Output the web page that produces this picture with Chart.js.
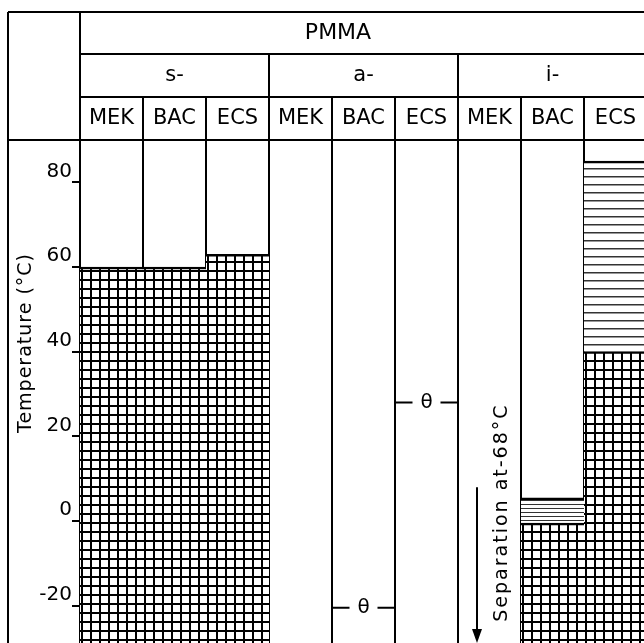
<!DOCTYPE html>
<html>
<head>
<meta charset="utf-8">
<script src="https://cdn.jsdelivr.net/npm/chart.js@4.4.1/dist/chart.umd.min.js"></script>
<style>
  html, body { margin: 0; padding: 0; background: #fff; overflow: hidden; }
  #wrap { width: 647px; height: 643px; }
</style>
</head>
<body>
<div id="wrap"><canvas id="pmmaChart"></canvas></div>
<script>
// columns of the table
var solvents = ['MEK', 'BAC', 'ECS', 'MEK', 'BAC', 'ECS', 'MEK', 'BAC', 'ECS'];
var tacticity = ['s-', 'a-', 'i-'];
var tempTicks = [-20, 0, 20, 40, 60, 80];
var tempMin = -28.8, tempMax = 90;

// gel state (crosshatched) from the bottom up to this temperature
var gelTop = [60, 60, 63, null, null, null, null, -0.5, 40];
// turbid state (horizontal lines) between these temperatures
var turbidFrom = [null, null, null, null, null, null, null, -0.5, 40];
var turbidTo = [null, null, null, null, null, null, null, 5.5, 85];
// theta temperatures
var thetaTemp = [null, null, null, null, -20.5, 28, null, null, null];
// i-MEK separates far below the plotted range
var separationCol = 6;
var separationText = 'Separation at-68°C';
var separationArrowFrom = 8;

var FONT = '"DejaVu Sans", sans-serif';
var canvas = document.getElementById('pmmaChart');

function makePattern(w, h, draw) {
  var c = document.createElement('canvas');
  c.width = w; c.height = h;
  var g = c.getContext('2d');
  g.fillStyle = '#fff';
  g.fillRect(0, 0, w, h);
  draw(g);
  return canvas.getContext('2d').createPattern(c, 'repeat');
}
var gridHatch = makePattern(9, 9, function(g) {
  g.fillStyle = '#000';
  g.fillRect(0, 0, 2, 9);
  g.fillRect(0, 0, 9, 2);
});
var wideLines = makePattern(8, 8, function(g) {
  g.fillStyle = '#333';
  g.fillRect(0, 0, 8, 1.5);
});
var fineLines = makePattern(4, 4, function(g) {
  g.fillStyle = '#333';
  g.fillRect(0, 0, 4, 1);
});

var gelData = gelTop.map(function(v) { return v == null ? null : [tempMin, v]; });
var turbidData = turbidFrom.map(function(v, i) { return v == null ? null : [v, turbidTo[i]]; });
var turbidFill = turbidFrom.map(function(v, i) { return turbidTo[i] - v < 15 ? fineLines : wideLines; });

function noPad(s) {
  s.paddingTop = 0; s.paddingBottom = 0; s.paddingLeft = 0; s.paddingRight = 0;
}

var tablePlugin = {
  id: 'tableFrame',
  afterDraw: function(chart) {
    var ctx = chart.ctx, a = chart.chartArea;
    var x2 = chart.scales.x2, y = chart.scales.y;
    var top = x2.top - 42, left = y.left;
    ctx.save();
    ctx.strokeStyle = '#000';
    ctx.lineWidth = 2;
    ctx.beginPath();
    ctx.moveTo(left, top); ctx.lineTo(a.right, top);
    ctx.moveTo(left, top); ctx.lineTo(left, a.bottom);
    ctx.moveTo(a.left, top); ctx.lineTo(a.left, a.top);
    ctx.moveTo(a.left, x2.top); ctx.lineTo(a.right, x2.top);
    ctx.moveTo(left, a.top); ctx.lineTo(a.left, a.top);
    ctx.stroke();

    ctx.fillStyle = '#000';
    ctx.textAlign = 'center';
    ctx.textBaseline = 'middle';
    ctx.font = '22px ' + FONT;
    ctx.fillText('PMMA', 338, (top + x2.top) / 2);

    ctx.translate(left + 18, 343);
    ctx.rotate(-Math.PI / 2);
    ctx.font = '19px ' + FONT;
    ctx.letterSpacing = '1px';
    ctx.fillText('Temperature (°C)', 0, 0);
    ctx.restore();
  },
  afterDatasetsDraw: function(chart) {
    var ctx = chart.ctx, x = chart.scales.x, y = chart.scales.y, a = chart.chartArea;
    var half = (x.getPixelForValue(1) - x.getPixelForValue(0)) / 2;
    ctx.save();
    ctx.strokeStyle = '#000';
    ctx.fillStyle = '#000';
    ctx.lineWidth = 2;
    ctx.textAlign = 'center';
    ctx.textBaseline = 'middle';
    ctx.font = '20px ' + FONT;
    thetaTemp.forEach(function(t, i) {
      if (t == null) return;
      var cx = x.getPixelForValue(i), py = y.getPixelForValue(t);
      ctx.beginPath();
      ctx.moveTo(cx - half, py); ctx.lineTo(cx - 14, py);
      ctx.moveTo(cx + 14, py); ctx.lineTo(cx + half, py);
      ctx.stroke();
      ctx.fillText('θ', cx, py);
    });

    // separation arrow and note
    var colLeft = x.getPixelForValue(separationCol) - half;
    var ax = colLeft + 19;
    ctx.beginPath();
    ctx.moveTo(ax, y.getPixelForValue(separationArrowFrom));
    ctx.lineTo(ax, a.bottom - 12);
    ctx.stroke();
    ctx.beginPath();
    ctx.moveTo(ax - 5, a.bottom - 14);
    ctx.lineTo(ax + 5, a.bottom - 14);
    ctx.lineTo(ax, a.bottom);
    ctx.closePath();
    ctx.fill();

    ctx.translate(colLeft + 44, y.getPixelForValue(2));
    ctx.rotate(-Math.PI / 2);
    ctx.font = '19px ' + FONT;
    ctx.letterSpacing = '2px';
    ctx.fillText(separationText, 0, 0);
    ctx.restore();
  }
};

new Chart(canvas, {
  type: 'bar',
  data: {
    labels: solvents,
    datasets: [{
      label: 'gel',
      data: gelData,
      backgroundColor: gridHatch,
      borderColor: '#000',
      borderWidth: { top: 2.5, left: 0, right: 0, bottom: 0 },
      borderSkipped: false,
      grouped: false,
      barPercentage: 1,
      categoryPercentage: 1
    }, {
      label: 'turbid',
      data: turbidData,
      backgroundColor: turbidFill,
      borderColor: '#000',
      borderWidth: { top: 2.5, left: 0, right: 0, bottom: 0 },
      borderSkipped: false,
      grouped: false,
      barPercentage: 1,
      categoryPercentage: 1
    }]
  },
  options: {
    responsive: true,
    maintainAspectRatio: false,
    animation: false,
    events: [],
    layout: { padding: { top: 54, left: 8, right: 0, bottom: 0 } },
    plugins: { legend: { display: false }, tooltip: { enabled: false } },
    scales: {
      x: {
        position: 'top',
        z: 1,
        weight: 0,
        grid: { offset: true, color: '#000', lineWidth: 2, tickLength: 43, drawOnChartArea: true },
        border: { display: true, color: '#000', width: 2 },
        ticks: { color: '#000', font: { family: FONT, size: 21, lineHeight: 1 }, padding: -32.5, maxRotation: 0, autoSkip: false },
        afterFit: function(s) { s.height = 43; noPad(s); }
      },
      x2: {
        type: 'category',
        labels: tacticity,
        position: 'top',
        weight: 1,
        grid: { offset: true, color: '#000', lineWidth: 2, tickLength: 43, drawOnChartArea: false },
        border: { display: true, color: '#000', width: 2 },
        ticks: { color: '#000', font: { family: FONT, size: 21, lineHeight: 1 }, padding: -32, maxRotation: 0, autoSkip: false },
        afterFit: function(s) { s.height = 43; noPad(s); }
      },
      y: {
        min: tempMin,
        max: tempMax,
        afterBuildTicks: function(s) { s.ticks = tempTicks.map(function(v) { return { value: v }; }); },
        afterFit: function(s) { s.width = 72; noPad(s); },
        grid: { drawOnChartArea: false, color: '#000', lineWidth: 2, tickLength: 8 },
        border: { display: true, color: '#000', width: 2 },
        ticks: { color: '#000', font: { family: FONT, size: 20 }, padding: 0, labelOffset: -11 }
      }
    }
  },
  plugins: [tablePlugin]
});
</script>
</body>
</html>
